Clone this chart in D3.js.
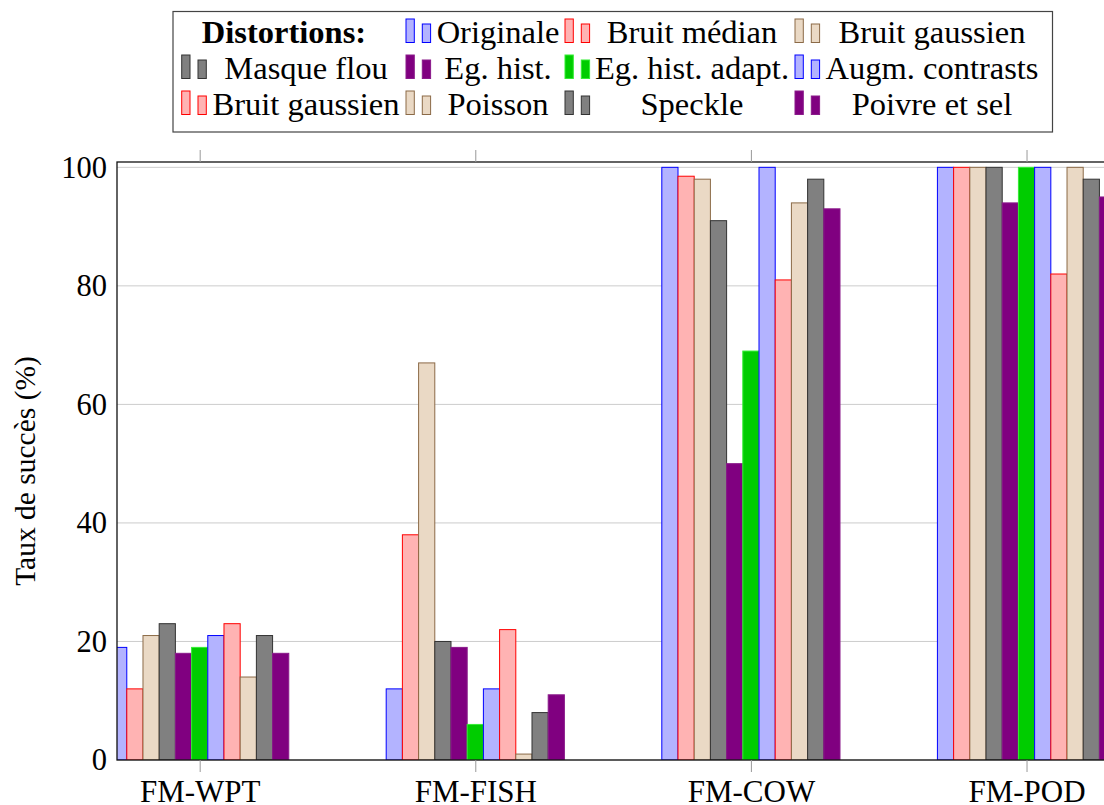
<!DOCTYPE html>
<html>
<head>
<meta charset="utf-8">
<script src="https://cdn.jsdelivr.net/npm/d3@7"></script>
<style>
  html, body { margin: 0; padding: 0; background: #fff; }
  svg { display: block; }
  text { font-family: "Liberation Serif", "Times New Roman", serif; fill: #000; }
</style>
</head>
<body>
<svg id="chart" width="1104" height="805"></svg>
<script>
// ---- data ----
const categories = ["FM-WPT", "FM-FISH", "FM-COW", "FM-POD"];
const seriesNames = ["Originale", "Bruit médian", "Bruit gaussien", "Masque flou", "Eg. hist.",
  "Eg. hist. adapt.", "Augm. contrasts", "Bruit gaussien", "Poisson", "Speckle", "Poivre et sel"];
const originale      = [19, 12, 100, 100];
const bruitMedian    = [12, 38, 98.5, 100];
const bruitGaussien1 = [21, 67, 98, 100];
const masqueFlou     = [23, 20, 91, 100];
const egHist         = [18, 19, 50, 94];
const egHistAdapt    = [19, 6, 69, 100];
const augmContrasts  = [21, 12, 100, 100];
const bruitGaussien2 = [23, 22, 81, 82];
const poisson        = [14, 1, 94, 100];
const speckle        = [21, 8, 98, 98];
const poivreEtSel    = [18, 11, 93, 95];
const seriesValues = [originale, bruitMedian, bruitGaussien1, masqueFlou, egHist, egHistAdapt,
  augmContrasts, bruitGaussien2, poisson, speckle, poivreEtSel];
const yTicks = [0, 20, 40, 60, 80, 100];
const yLabel = "Taux de succès (%)";
const legendTitle = "Distortions:";

// styles (pgfplots-like)
const fills   = ["#b3b3ff", "#ffb3b3", "#ead9c5", "#808080", "#800080", "#00cc00",
                 "#b3b3ff", "#ffb3b3", "#ead9c5", "#808080", "#800080"];
const strokes = ["#0000ff", "#ff0000", "#8b6a47", "#333333", "#8a1a8a", "#33ee33",
                 "#0000ff", "#ff0000", "#8b6a47", "#333333", "#8a1a8a"];

const svg = d3.select("#chart");
const pLeft = 117, pTop = 162, pBottom = 760, pRight = 1109.2;
const x = d3.scaleLinear().domain([-0.3, 3.3]).range([pLeft, pRight]);
const y = d3.scaleLinear().domain([0, 100.9]).range([pBottom, pTop]);
const barW = 16.2;

svg.append("defs").append("clipPath").attr("id", "plotclip")
  .append("rect").attr("x", pLeft).attr("y", pTop).attr("width", pRight - pLeft).attr("height", pBottom - pTop);

// grid
svg.append("g").selectAll("line").data(yTicks).join("line")
  .attr("x1", pLeft).attr("x2", pRight)
  .attr("y1", d => y(d)).attr("y2", d => y(d))
  .attr("stroke", "#cccccc").attr("stroke-width", 1);

// bars
const barsG = svg.append("g").attr("clip-path", "url(#plotclip)");
seriesValues.forEach((vals, j) => {
  barsG.append("g").selectAll("rect").data(vals).join("rect")
    .attr("x", (d, i) => x(i) + (j - 5) * barW - barW / 2)
    .attr("y", d => y(d))
    .attr("width", barW)
    .attr("height", d => y(0) - y(d))
    .attr("fill", fills[j])
    .attr("stroke", strokes[j])
    .attr("stroke-width", 1);
});

// frame
svg.append("rect").attr("x", pLeft).attr("y", pTop).attr("width", pRight - pLeft).attr("height", pBottom - pTop)
  .attr("fill", "none").attr("stroke", "#111").attr("stroke-width", 1.3);

// x ticks top and bottom
const xAxisB = d3.axisBottom(x).tickValues(d3.range(categories.length)).tickFormat(i => categories[i])
  .tickSizeInner(12).tickSizeOuter(0).tickPadding(8);
const gxb = svg.append("g").attr("transform", `translate(0,${pBottom})`).call(xAxisB);
gxb.select(".domain").remove();
gxb.selectAll(".tick line").attr("stroke", "#999");
gxb.selectAll(".tick text").attr("font-size", 31).attr("font-family", "Liberation Serif").attr("fill", "#000");

const xAxisT = d3.axisTop(x).tickValues(d3.range(categories.length)).tickFormat("").tickSizeInner(12).tickSizeOuter(0);
const gxt = svg.append("g").attr("transform", `translate(0,${pTop})`).call(xAxisT);
gxt.select(".domain").remove();
gxt.selectAll(".tick line").attr("stroke", "#999");

// y axis labels
const yAxis = d3.axisLeft(y).tickValues(yTicks).tickSize(0).tickPadding(10);
const gy = svg.append("g").attr("transform", `translate(${pLeft},0)`).call(yAxis);
gy.select(".domain").remove();
gy.selectAll(".tick text").attr("font-size", 30.5).attr("font-family", "Liberation Serif").attr("fill", "#000");

// y label
svg.append("text")
  .attr("transform", `translate(35,${(pTop + pBottom) / 2 + 10}) rotate(-90)`)
  .attr("text-anchor", "middle").attr("font-size", 29.5)
  .text(yLabel);

// legend
const lg = svg.append("g");
lg.append("rect").attr("x", 173).attr("y", 11.5).attr("width", 879.5).attr("height", 120.5)
  .attr("fill", "#fff").attr("stroke", "#444").attr("stroke-width", 1.2);
const colImgX = [181.7, 406, 565, 795];
const colTextX = [306, 498, 692, 932];
const rowBase = [42.5, 78.5, 114.5];
lg.append("text").attr("x", 284).attr("y", rowBase[0]).attr("text-anchor", "middle")
  .attr("font-size", 32.5).attr("font-weight", "bold").text(legendTitle);
seriesNames.forEach((name, j) => {
  const cell = j + 1, r = Math.floor(cell / 4), c = cell % 4;
  const bx = colImgX[c], by = rowBase[r];
  lg.append("rect").attr("x", bx).attr("y", by - 23.5).attr("width", 8.3).attr("height", 23.5)
    .attr("fill", fills[j]).attr("stroke", strokes[j]).attr("stroke-width", 1);
  lg.append("rect").attr("x", bx + 16.3).attr("y", by - 18.5).attr("width", 8.3).attr("height", 18.5)
    .attr("fill", fills[j]).attr("stroke", strokes[j]).attr("stroke-width", 1);
  lg.append("text").attr("x", colTextX[c]).attr("y", by).attr("text-anchor", "middle")
    .attr("font-size", 32.5).text(name);
});
</script>
</body>
</html>
